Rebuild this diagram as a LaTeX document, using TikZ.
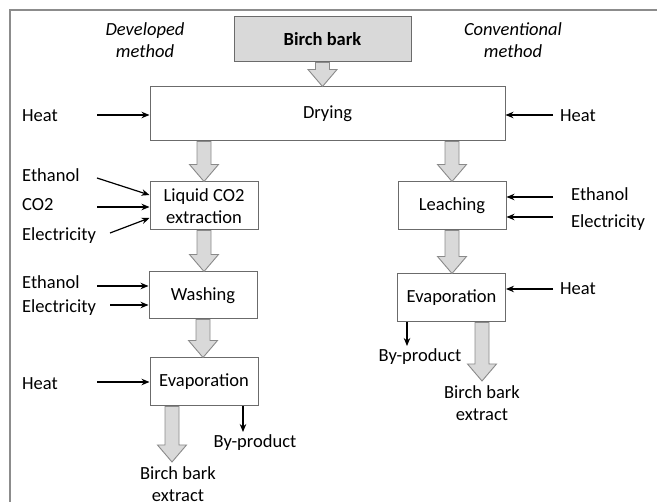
\documentclass[tikz,border=0pt]{standalone}
\usepackage{fontspec}
\setmainfont{Carlito}
\usetikzlibrary{arrows.meta,calc}
\definecolor{bigFill}{HTML}{D9D9D9}
\definecolor{bigLine}{HTML}{8A8A8A}
\definecolor{boxLine}{HTML}{6B6B6B}
\definecolor{frameLine}{HTML}{8C8C8C}
\newcommand{\labelfont}{\fontsize{18.5}{22.5}\selectfont}
% wide grey flow arrow, x taken from the tip
\newcommand{\bigarrow}[2]{%
  \draw[bigArc] let \p1=(#1), \p2=(#2) in
    (\x2-7pt,\y1) -- (\x2-7pt,\y2+17pt) -- (\x2-14.5pt,\y2+17pt) -- (\x2,\y2)
    -- (\x2+14.5pt,\y2+17pt) -- (\x2+7pt,\y2+17pt) -- (\x2+7pt,\y1) -- cycle;}
\tikzset{
  stepbox/.style={draw=boxLine, fill=white, line width=1pt,
    minimum width=108pt, minimum height=48pt, inner sep=0pt,
    align=center, font=\labelfont},
  barkbox/.style={stepbox, fill=bigFill, font=\labelfont\bfseries},
  flowtext/.style={font=\labelfont, inner sep=0pt},
  methodtext/.style={font=\labelfont\itshape, align=center, inner sep=0pt},
  inArc/.style={-{Stealth[length=8pt,width=6.5pt]}, line width=1.2pt},
  bigArc/.style={draw=bigLine, fill=bigFill, line width=0.9pt},
  frame/.style={draw=frameLine, line width=1.5pt},
}
\begin{document}
\begin{tikzpicture}[x=1pt,y=-1pt]
  \useasboundingbox (0,0) rectangle (657,502);
  \draw[frame] (657,10) -- (10,10) -- (10,502);
  \node[barkbox, minimum width=177pt, minimum height=45pt] (bark) at (322.5,39.5) {Birch bark};
  \node[methodtext] (devm) at (145,40) {Developed\\method};
  \node[methodtext] (convm) at (513,40) {Conventional\\method};
  \node[stepbox, minimum width=355pt, minimum height=54pt] (dry) at (327.5,114) {Drying};
  \node[stepbox] (liq) at (204,206) {Liquid CO2\\extraction};
  \node[stepbox] (leach) at (452,206) {Leaching};
  \node[stepbox, minimum height=47pt] (wash) at (203,295.5) {Washing};
  \node[stepbox] (evapL) at (204,382) {Evaporation};
  \node[stepbox] (evapR) at (451.5,298) {Evaporation};

  \node[flowtext, anchor=base west] (heatDL) at (22,122) {Heat};
  \node[flowtext, anchor=base west] (ethL) at (22,182) {Ethanol};
  \node[flowtext, anchor=base west] (co2L) at (22,211) {CO2};
  \node[flowtext, anchor=base west] (elecL) at (22,241) {Electricity};
  \node[flowtext, anchor=base west] (ethW) at (22,289) {Ethanol};
  \node[flowtext, anchor=base west] (elecW) at (22,313) {Electricity};
  \node[flowtext, anchor=base west] (heatEL) at (22,390) {Heat};
  \node[flowtext, anchor=base west] (heatDR) at (560,122) {Heat};
  \node[flowtext, anchor=base west] (ethR) at (571,201) {Ethanol};
  \node[flowtext, anchor=base west] (elecR) at (571,228) {Electricity};
  \node[flowtext, anchor=base west] (heatER) at (560,295) {Heat};

  \coordinate (heatDLs) at (97,115);
  \coordinate (ethLs) at (97,178);
  \coordinate (co2Ls) at (97,207);
  \coordinate (elecLs) at (110,233);
  \coordinate (ethWs) at (97,286);
  \coordinate (elecWs) at (110,305);
  \coordinate (heatELs) at (97,382);
  \coordinate (heatDRs) at (553,115);
  \coordinate (ethRs) at (553,197);
  \coordinate (elecRs) at (553,217);
  \coordinate (heatERs) at (553,289);
  \draw[inArc] (heatDLs) -- (heatDLs -| dry.west);
  \draw[inArc] (ethLs) -- ([yshift=11pt]liq.west);
  \draw[inArc] (co2Ls) -- (co2Ls -| liq.west);
  \draw[inArc] (elecLs) -- ([yshift=-12pt]liq.west);
  \draw[inArc] (ethWs) -- (ethWs -| wash.west);
  \draw[inArc] (elecWs) -- (elecWs -| wash.west);
  \draw[inArc] (heatELs) -- (heatELs -| evapL.west);
  \draw[inArc] (heatDRs) -- (heatDRs -| dry.east);
  \draw[inArc] (ethRs) -- (ethRs -| leach.east);
  \draw[inArc] (elecRs) -- (elecRs -| leach.east);
  \draw[inArc] (heatERs) -- (heatERs -| evapR.east);

  \bigarrow{bark.south}{bark.south |- dry.north}
  \bigarrow{dry.south -| liq.north}{liq.north}
  \bigarrow{dry.south -| leach.north}{leach.north}
  \bigarrow{liq.south}{liq.south |- wash.north}
  \bigarrow{wash.south}{wash.south |- evapL.north}
  \bigarrow{leach.south}{leach.south |- evapR.north}
  \coordinate (extLtip) at (172,462);
  \coordinate (extRtip) at (482,381);
  \bigarrow{evapL.south -| extLtip}{extLtip}
  \bigarrow{evapR.south -| extRtip}{extRtip}
  \node[flowtext, align=center, anchor=north] (extL) at (178,466) {Birch bark\\extract};
  \node[flowtext, align=center, anchor=north] (extR) at (482,385) {Birch bark\\extract};

  \coordinate (byLtip) at (243,432);
  \coordinate (byRtip) at (407,346);
  \draw[inArc] (evapL.south -| byLtip) -- (byLtip);
  \draw[inArc] (evapR.south -| byRtip) -- (byRtip);
  \node[flowtext, anchor=north] (byL) at (255,434) {By-product};
  \node[flowtext, anchor=north] (byR) at (420,348) {By-product};
\end{tikzpicture}
\end{document}
